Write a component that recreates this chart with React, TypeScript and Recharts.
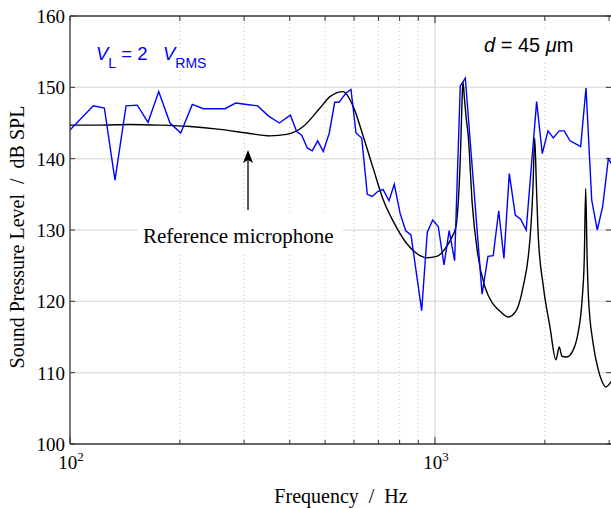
import React from "react";
import { LineChart, Line, XAxis, YAxis, ReferenceLine } from "recharts";

// Measured (blue) series: frequency in Hz, level in dB SPL
const measuredFreq = [
  100, 115.8, 124.2, 132.8, 142.4, 152.9, 163.6, 175.0, 187.9, 201.1, 216.3, 231.9, 248.1, 265.9,
  284.4, 304.9, 326.8, 349.4, 374.5, 401.5, 417.9, 431.3, 446.8, 461.1, 477.1, 494.3, 513.4, 531.2,
  545.8, 570.4, 588.7, 607.6, 629.9, 652.5, 673.4, 696.7, 720.4, 748.2, 773.6, 802.0, 831.3, 859.6,
  919.6, 952.6, 985.6, 1021, 1058.5, 1093.7, 1132, 1173, 1211, 1346, 1397, 1444, 1495, 1545, 1598,
  1660, 1717, 1778, 1899, 1968, 2040, 2110, 2190, 2261, 2344, 2424, 2507, 2593, 2688, 2784, 2881,
  2985, 3090,
];
const measuredLevel = [
  144.0, 147.4, 147.1, 137.0, 147.4, 147.5, 145.1, 149.4, 145.0, 143.6, 147.6, 147.0, 147.0, 147.0,
  147.8, 147.6, 147.4, 146.0, 145.0, 146.1, 143.8, 143.3, 141.5, 141.1, 142.5, 141.0, 143.6, 147.9,
  147.9, 149.2, 149.7, 143.6, 142.9, 135.0, 134.7, 135.4, 135.7, 134.1, 136.4, 132.4, 129.9, 129.3,
  118.7, 129.7, 131.4, 130.5, 125.1, 129.9, 125.7, 150.2, 151.3, 121.0, 126.3, 126.4, 132.7, 126.0, 137.9,
  132.1, 131.5, 130.0, 148.0, 140.7, 143.9, 142.9, 143.9, 143.9, 142.5, 142.1, 141.7, 149.9, 134.2, 130.0, 133.3,
  140.0, 138.8,
];

// Reference microphone (black) series
const refFreq = [
  100, 120.8, 146.0, 176.5, 213.3, 257.6, 304.9, 353.1, 392.4, 435.6, 484.1, 515.6, 559.6, 597.3,
  636.2, 677.7, 721.9, 768.8, 836.6, 891.2, 949.1, 1011, 1077, 1113, 1142, 1160, 1175, 1186, 1193,
  1204, 1216, 1234, 1265, 1309, 1371, 1439, 1507, 1588, 1674, 1745, 1802, 1832, 1856, 1876, 1897,
  1919, 1981, 2066, 2145, 2190, 2228, 2295, 2393, 2465, 2528, 2565, 2588, 2609, 2634, 2712, 2802,
  2868, 2936, 3036, 3200,
];
const refLevel = [
  144.7, 144.7, 144.8, 144.7, 144.5, 144.1, 143.6, 143.2, 143.4, 144.5, 147.1, 148.7, 149.4, 147.3,
  143.1, 138.6, 134.2, 131.2, 128.1, 126.7, 126.1, 126.3, 127.7, 129.0, 130.5, 134.5, 141.0, 148.0, 150.8,
  148.5, 146.0, 143.1, 133.7, 126.7, 122.0, 119.7, 118.6, 117.8, 118.8, 122.1, 126.3, 130.5, 136.0, 142.9, 136.0,
  129.1, 122.1, 116.4, 111.8, 113.6, 112.3, 112.2, 113.2, 115.5, 120.0, 126.0, 135.8, 127.0, 120.5, 114.1, 110.4,
  108.8, 108.0, 108.7, 110.5,
];

const xTicks = [100, 200, 300, 400, 500, 600, 700, 800, 900, 1000, 2000, 3000];
const dottedX = [200, 300, 400, 500, 600, 700, 800, 900, 2000];
const yTicks = [100, 110, 120, 130, 140, 150, 160];
const yGrid = [110, 120, 130, 140, 150];

const X_MIN = 100;
const X_MAX = 3036;

const measuredData = measuredFreq.map((f, i) => ({ f, v: measuredLevel[i] }));
const refData = refFreq.map((f, i) => ({ f, v: refLevel[i] }));

const SERIF = "'Liberation Serif', 'Times New Roman', serif";
const SANS = "'Liberation Sans', Arial, sans-serif";
const NB = "\u00a0";

const XTick = (props: any) => {
  const { x, y, payload } = props;
  const val = payload.value;
  const major = val === 100 || val === 1000;
  return (
    <g>
      <line x1={x} x2={x} y1={y} y2={y - (major ? 7 : 4)} stroke="#333" strokeWidth={1} />
      {major && (
        <text x={x + 1} y={y + 25} textAnchor="middle" fontFamily={SERIF} fontSize={19} fill="#000">
          <tspan>10</tspan>
          <tspan dy={-8} fontSize={13}>
            {val === 100 ? "2" : "3"}
          </tspan>
        </text>
      )}
    </g>
  );
};

const YTick = (props: any) => {
  const { x, y, payload } = props;
  return (
    <g>
      <line x1={x} x2={x + 5} y1={y} y2={y} stroke="#333" strokeWidth={1} />
      <text x={x - 5} y={y + 7} textAnchor="end" fontFamily={SERIF} fontSize={19} fill="#000">
        {payload.value}
      </text>
    </g>
  );
};

export default function App() {
  return (
    <div style={{ position: "absolute", left: 0, top: 0, width: 611, height: 508, background: "#fff" }}>
      <LineChart width={611} height={508} margin={{ top: 16, right: 0, bottom: 0, left: 0 }}>
        <XAxis
          dataKey="f"
          type="number"
          scale="log"
          domain={[X_MIN, X_MAX]}
          allowDataOverflow
          ticks={xTicks}
          interval={0}
          height={64}
          tickSize={0}
          tickMargin={0}
          tickLine={false}
          axisLine={{ stroke: "#333", strokeWidth: 1.3 }}
          tick={<XTick />}
        />
        <YAxis
          type="number"
          domain={[100, 160]}
          allowDataOverflow
          ticks={yTicks}
          interval={0}
          width={70}
          tickSize={0}
          tickMargin={0}
          tickLine={false}
          axisLine={{ stroke: "#333", strokeWidth: 1.3 }}
          tick={<YTick />}
        />
        {yGrid.map((v) => (
          <ReferenceLine key={"h" + v} y={v} stroke="#e2e2e2" strokeWidth={1.5} />
        ))}
        {dottedX.map((f) => (
          <ReferenceLine key={"v" + f} x={f} stroke="#c8c8c8" strokeWidth={1} strokeDasharray="1 3" />
        ))}
        <ReferenceLine x={1000} stroke="#dcdcdc" strokeWidth={1.5} />
        <ReferenceLine y={160} stroke="#333" strokeWidth={1.3} />
        {xTicks
          .filter((f) => f < X_MAX)
          .map((f) => (
            <ReferenceLine
              key={"tt" + f}
              segment={[
                { x: f, y: 160 },
                { x: f, y: f === 1000 ? 159.0 : 159.3 },
              ]}
              stroke="#333"
              strokeWidth={1}
            />
          ))}
        {yTicks.map((v) => (
          <ReferenceLine
            key={"rt" + v}
            segment={[
              { x: 2940, y: v },
              { x: X_MAX, y: v },
            ]}
            stroke="#333"
            strokeWidth={1}
          />
        ))}
        <Line
          data={refData}
          dataKey="v"
          type="monotone"
          stroke="#000"
          strokeWidth={1.4}
          dot={false}
          isAnimationActive={false}
        />
        <Line
          data={measuredData}
          dataKey="v"
          type="linear"
          stroke="#0000ff"
          strokeWidth={1.4}
          dot={false}
          isAnimationActive={false}
        />
      </LineChart>
      <svg
        width={611}
        height={508}
        style={{ position: "absolute", left: 0, top: 0, pointerEvents: "none" }}
      >
        <text x={96} y={60} fontFamily={SANS} fontSize={18.5} fill="#0000ff">
          <tspan fontStyle="italic">V</tspan>
          <tspan dy={8} fontSize={14}>L</tspan>
          <tspan dy={-8}>{NB + "=" + NB + "2" + NB + NB + NB}</tspan>
          <tspan fontStyle="italic">V</tspan>
          <tspan dy={8} fontSize={14}>RMS</tspan>
        </text>
        <rect x={478} y={29} width={106} height={32} fill="#fff" />
        <text x={484} y={52} fontFamily={SANS} fontSize={20} fill="#000">
          <tspan fontStyle="italic">d</tspan>
          <tspan>{NB + "=" + NB + "45" + NB}</tspan>
          <tspan fontStyle="italic">μ</tspan>
          <tspan>m</tspan>
        </text>
        <rect x={138} y={213} width={205} height={39} fill="#fff" />
        <text x={143} y={243} fontFamily={SERIF} fontSize={21} fill="#000">
          Reference microphone
        </text>
        <line x1={248} y1={210} x2={248} y2={156} stroke="#000" strokeWidth={1.3} />
        <path d="M248,150 L253,163 L248,160 L243,163 Z" fill="#000" />
        <text x={341} y={503} textAnchor="middle" fontFamily={SERIF} fontSize={20} fill="#000">
          {"Frequency" + NB + NB + "/" + NB + NB + "Hz"}
        </text>
        <text
          x={24}
          y={237}
          textAnchor="middle"
          transform="rotate(-90 24 237)"
          fontFamily={SERIF}
          fontSize={20}
          fill="#000"
        >
          {"Sound Pressure Level" + NB + NB + "/" + NB + NB + "dB SPL"}
        </text>
      </svg>
    </div>
  );
}
